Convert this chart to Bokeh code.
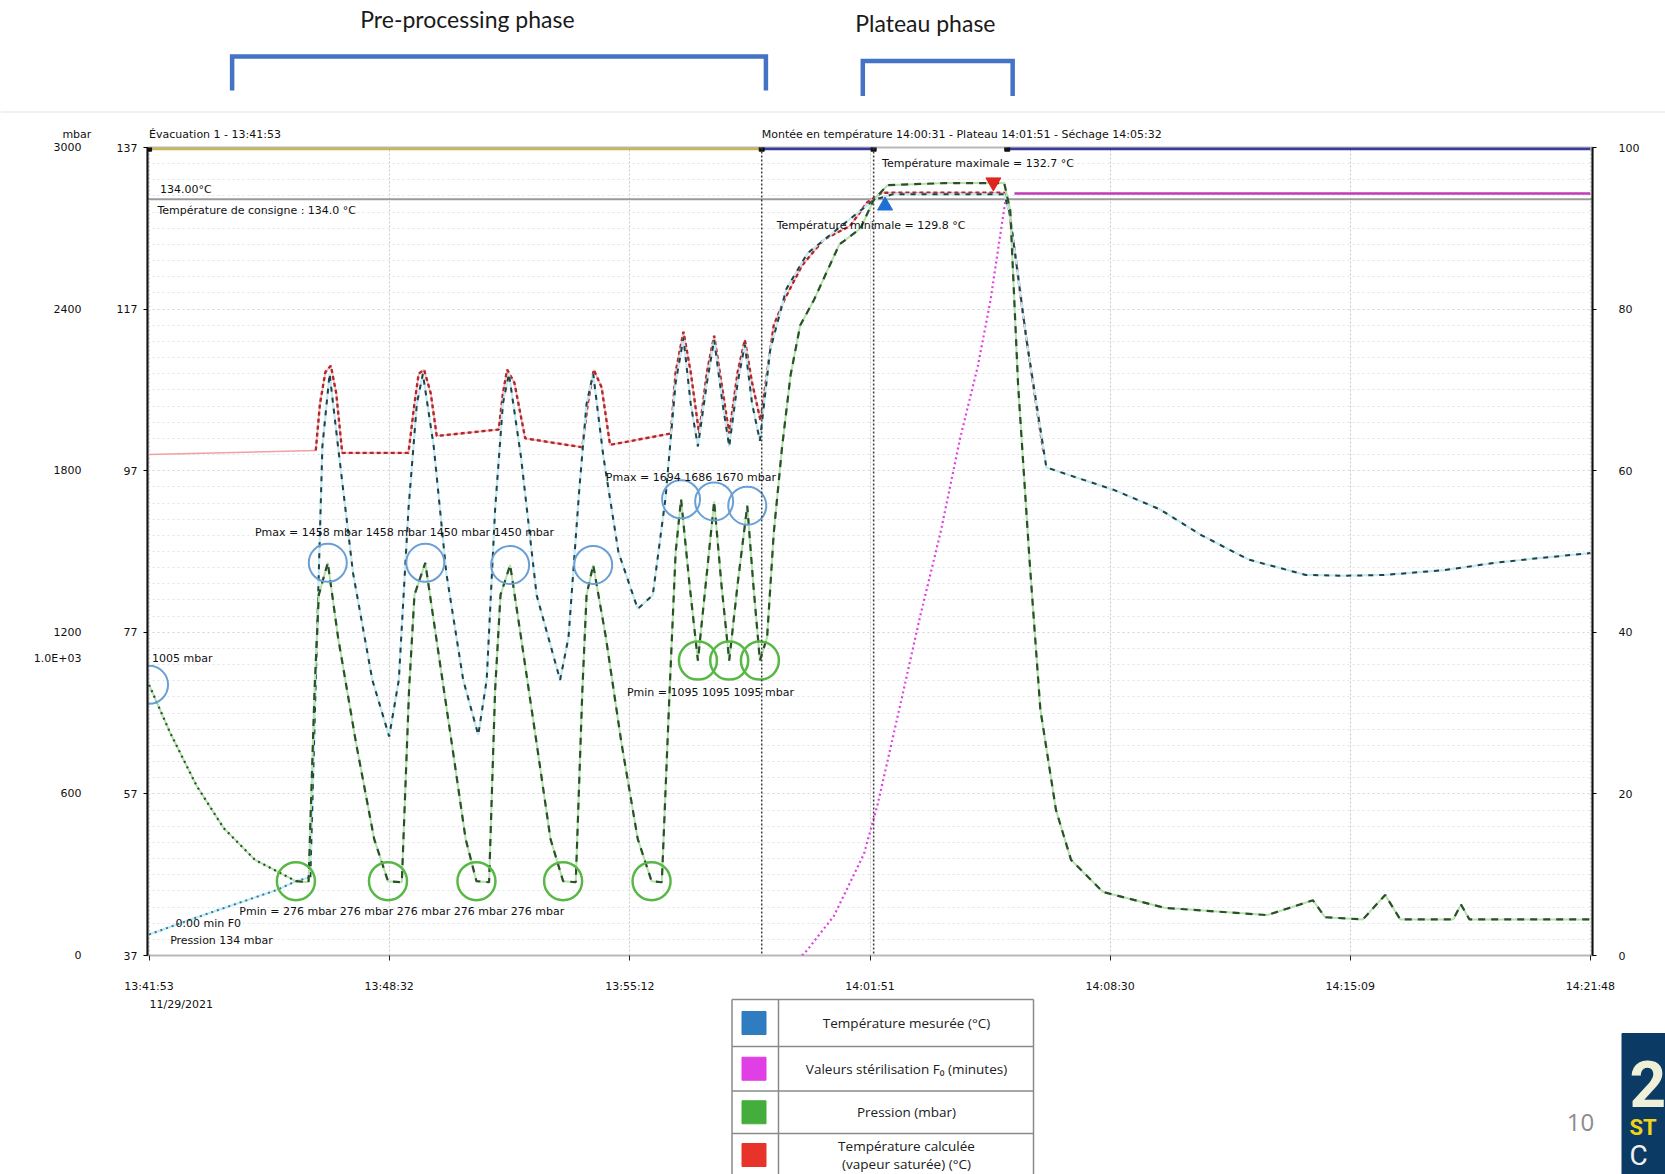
from datetime import datetime
import numpy as np
from bokeh.plotting import figure
from bokeh.models import Range1d, LinearAxis, FixedTicker, Label, Span
from bokeh.embed import file_html
from bokeh.resources import INLINE

# ---------------- data ----------------
time_tick_labels = ["13:41:53", "13:48:32", "13:55:12", "14:01:51", "14:08:30", "14:15:09", "14:21:48"]
date_label = "11/29/2021"

temp_ticks = [37, 57, 77, 97, 117, 137]
pressure_ticks = [0, 600, 1200, 1800, 2400, 3000]
pressure_note_tick = 1103
pressure_note_label = "1.0E+03"
f0_ticks = [0, 20, 40, 60, 80, 100]

# Pression (mbar) vs seconds since 13:41:53
pressure_t = [0, 35, 79, 124, 176, 244, 265, 275, 282, 297, 314, 344, 374, 397, 420, 432, 441, 459, 477, 503,
              526, 544, 565, 575, 584, 600, 618, 644, 667, 688, 709, 720, 727, 738, 759, 785, 812, 835, 852, 865,
              875, 884, 898, 912, 925, 939, 951, 964, 978, 994, 1004, 1015, 1027, 1038, 1052, 1066, 1082, 1105,
              1147, 1182, 1204, 1227, 1324, 1421, 1431, 1444, 1463, 1481, 1507, 1532, 1585, 1687, 1858, 1934,
              1954, 2017, 2054, 2079, 2167, 2180, 2194, 2395]
pressure_mbar = [1005, 827, 630, 473, 355, 276, 272, 985, 1339, 1458, 1182, 788, 433, 276, 272, 985, 1339, 1458,
                 1182, 788, 433, 276, 272, 985, 1339, 1450, 1182, 788, 433, 276, 272, 985, 1339, 1450, 1182, 788,
                 433, 276, 272, 985, 1497, 1694, 1379, 1095, 1379, 1686, 1379, 1095, 1379, 1670, 1379, 1095, 1182,
                 1568, 1891, 2155, 2340, 2435, 2640, 2699, 2805, 2860, 2868, 2868, 2766, 2120, 1469, 914, 540, 355,
                 236, 177, 150, 205, 142, 134, 225, 134, 134, 189, 134, 134]
pressure_max_idx = [0, 9, 17, 25, 33, 41, 45, 49]
pressure_min_idx = [5, 13, 21, 29, 37, 43, 47, 51]

# Température mesurée (°C)
temp_meas_t = [0, 71, 141, 212, 244, 268, 279, 288, 300, 314, 339, 371, 399, 415, 431, 445, 455, 473, 494, 522,
               547, 561, 575, 588, 598, 618, 644, 683, 697, 715, 727, 738, 755, 780, 812, 837, 858, 875, 888, 900,
               912, 927, 939, 953, 964, 978, 990, 1002, 1015, 1032, 1059, 1094, 1147, 1204, 1235, 1341, 1421,
               1430, 1458, 1491, 1604, 1680, 1749, 1827, 1922, 1985, 2054, 2153, 2236, 2312, 2395]
temp_meas_c = [39.6, 41.5, 43.3, 45.1, 46.2, 46.7, 76.4, 100.0, 109.0, 100.0, 84.3, 71.1, 64.1, 71.1, 92.2, 105.3,
               109.0, 100.0, 84.3, 71.1, 64.3, 71.1, 92.2, 105.3, 109.0, 98.7, 81.6, 71.1, 76.4, 94.8, 105.3,
               109.0, 98.7, 86.9, 79.9, 81.6, 93.5, 107.9, 113.4, 105.3, 100.0, 107.9, 113.2, 105.3, 100.0, 107.9,
               112.6, 105.3, 100.7, 111.9, 119.5, 123.9, 127.1, 130.5, 131.2, 131.2, 131.2, 128.9, 113.2, 97.4,
               94.6, 92.2, 89.0, 86.0, 84.1, 84.0, 84.1, 84.7, 85.6, 86.2, 86.8]

# Température calculée (vapeur saturée) (°C)
temp_calc_start_t = [0, 277]
temp_calc_start_c = [99.0, 99.5]
temp_calc_t = [277, 284, 293, 302, 311, 321, 431, 441, 448, 457, 468, 478, 581, 588, 595, 607, 625, 720, 729, 739,
               752, 766, 867, 875, 888, 900, 914, 927, 939, 951, 964, 978, 990, 1002, 1016, 1038, 1056, 1085, 1121,
               1165, 1193, 1218, 1341, 1421, 1430, 1458, 1486]
temp_calc_c = [99.5, 105.3, 109.2, 110.0, 106.6, 99.2, 99.2, 105.3, 109.0, 109.5, 106.6, 101.3, 102.1, 106.6, 109.5,
               107.9, 101.0, 99.9, 105.3, 109.5, 107.3, 100.2, 101.6, 109.2, 114.2, 109.2, 101.6, 109.2, 113.7,
               107.9, 101.6, 109.2, 113.2, 107.9, 103.2, 115.0, 118.2, 122.4, 125.6, 127.3, 130.2, 131.4, 131.4,
               131.4, 128.9, 113.2, 99.4]

# Valeurs stérilisation F0 (minutes)
f0_t = [1085, 1094, 1138, 1188, 1211, 1250, 1281, 1315, 1348, 1377, 1398, 1412, 1424, 1438, 2395]
f0_min = [0, 0.7, 4.9, 12.6, 18.8, 31.6, 41.9, 52.3, 64.1, 72.9, 81.0, 88.0, 93.9, 94.3, 94.3]
f0_rise_end = 12

setpoint_c = 130.6
temp_min_point = (1223, 129.8)
temp_max_point = (1403, 132.7)

phase_bounds = [0, 1018, 1204, 1426, 2395]
phase_colors = ["#c8b55c", "#3b3b9e", None, "#3b3b9e"]
preprocessing_span = (138, 1025)
plateau_span = (1186, 1435)

legend_items = [("Température mesurée (°C)", "#2f7cc0"),
                ("Valeurs stérilisation F₀ (minutes)", "#e03fe6"),
                ("Pression (mbar)", "#45ad3c"),
                ("Température calculée\n(vapeur saturée) (°C)", "#e8332a")]

# ---------------- layout constants (page has no margin) ----------------
W = 1665
TOP_H, MAIN_H, BOT_H = 140, 855, 179
BL, BR, BT, BB = 147, 73, 7, 39
x0, x1 = -2.6, 2398.5
SMALL = "DejaVu Sans"

# ---------------- main chart ----------------
main = figure(width=W, height=MAIN_H, x_range=Range1d(x0, x1), y_range=Range1d(temp_ticks[0], temp_ticks[-1]),
              output_backend="svg", toolbar_location=None,
              min_border_left=BL, min_border_right=BR, min_border_top=BT, min_border_bottom=BB,
              outline_line_color="#b9b9b9", outline_line_width=2)
main.extra_y_ranges = {"p": Range1d(pressure_ticks[0], pressure_ticks[-1]),
                       "f0": Range1d(f0_ticks[0], f0_ticks[-1])}

t_first = datetime.strptime(time_tick_labels[0], "%H:%M:%S")
tick_secs = [float((datetime.strptime(s, "%H:%M:%S") - t_first).total_seconds()) for s in time_tick_labels]

xa = main.xaxis[0]
xa.ticker = FixedTicker(ticks=tick_secs)
xa.major_label_overrides = {tv: lab for tv, lab in zip(tick_secs, time_tick_labels)}
xa.axis_line_color = None
xa.major_tick_out = 5
xa.major_tick_in = 0
xa.major_tick_line_color = "#222"
xa.minor_tick_line_color = None
xa.major_label_standoff = 19

ta = main.yaxis[0]
ta.ticker = FixedTicker(ticks=temp_ticks, minor_ticks=list(np.arange(temp_ticks[0], temp_ticks[-1] + 1, 2)))
ta.axis_line_color = "#111"
ta.axis_line_width = 2
ta.major_tick_out = 4
ta.major_tick_in = 0
ta.minor_tick_line_color = None
ta.major_label_standoff = 6

p_ticks_all = sorted(pressure_ticks + [pressure_note_tick])
pa = LinearAxis(y_range_name="p", ticker=FixedTicker(ticks=p_ticks_all))
pa.major_label_overrides = {pressure_note_tick: pressure_note_label}
pa.axis_line_color = None
pa.major_tick_line_color = None
pa.minor_tick_line_color = None
pa.major_label_standoff = 26
main.add_layout(pa, "left")

fa = LinearAxis(y_range_name="f0", ticker=FixedTicker(ticks=f0_ticks))
fa.axis_line_color = "#111"
fa.axis_line_width = 2
fa.major_tick_out = 4
fa.major_tick_in = 0
fa.minor_tick_line_color = None
fa.major_label_standoff = 22
main.add_layout(fa, "right")

for ax in (xa, ta, pa, fa):
    ax.major_label_text_font = SMALL
    ax.major_label_text_font_size = "11px"
    ax.major_label_text_color = "#111"

main.xgrid.grid_line_color = "#c9c9c9"
main.xgrid.grid_line_dash = "2 2"
main.ygrid.grid_line_color = "#d3d9e3"
main.ygrid.grid_line_dash = "2 3"
main.ygrid.minor_grid_line_color = "#dfe4ec"
main.ygrid.minor_grid_line_dash = "2 3"

# phase bars at the top of the frame and phase boundaries
y_bar = temp_ticks[-1] - 0.15
for a, b, c in zip(phase_bounds[:-1], phase_bounds[1:], phase_colors):
    if c:
        main.segment(x0=[a], y0=[y_bar], x1=[b], y1=[y_bar], line_color=c, line_width=3)
main.scatter(x=phase_bounds[:-1], y=[y_bar] * (len(phase_bounds) - 1), marker="square", size=5,
             fill_color="#111", line_color="#111")
for b in phase_bounds[1:3]:
    main.add_layout(Span(location=b, dimension="height", line_color="#3c3c3c", line_dash="2 2", line_width=1.5))

# setpoint line
main.line(x=[x0, x1], y=[setpoint_c, setpoint_c], line_color="#9b9b9b", line_width=2)

# F0
main.line(x=f0_t[:f0_rise_end + 1], y=f0_min[:f0_rise_end + 1], y_range_name="f0",
          line_color="#e23fe0", line_width=2.2, line_dash="2 3")
main.line(x=f0_t[f0_rise_end + 1:], y=f0_min[f0_rise_end + 1:], y_range_name="f0",
          line_color="#c03ab8", line_width=2.5)

# calculated temperature
main.line(x=temp_calc_start_t, y=temp_calc_start_c, line_color="#f2a0a0", line_width=1.6)
main.line(x=temp_calc_t, y=temp_calc_c, line_color="#f6b7b7", line_width=1.6)
main.line(x=temp_calc_t, y=temp_calc_c, line_color="#b3262b", line_width=2.4, line_dash="4 3")

# measured temperature (first heating segment dotted, rest dashed)
k = 5
main.line(x=temp_meas_t, y=temp_meas_c, line_color="#c4eaf7", line_width=2.2)
main.line(x=temp_meas_t[:k + 1], y=temp_meas_c[:k + 1], line_color="#2f7d95", line_width=2, line_dash="2 4")
main.line(x=temp_meas_t[k:], y=temp_meas_c[k:], line_color="#24433f", line_width=2, line_dash="5 6")

# pressure (initial evacuation dotted, rest dashed)
main.line(x=pressure_t, y=pressure_mbar, y_range_name="p", line_color="#b4e3aa", line_width=2)
main.line(x=pressure_t[:pressure_min_idx[0] + 1], y=pressure_mbar[:pressure_min_idx[0] + 1], y_range_name="p",
          line_color="#2a4f2a", line_width=2.2, line_dash="2 4")
main.line(x=pressure_t[pressure_min_idx[0]:], y=pressure_mbar[pressure_min_idx[0]:], y_range_name="p",
          line_color="#2a4f2a", line_width=2.2, line_dash="7 6")

# extremes circles
main.scatter(x=[pressure_t[i] for i in pressure_max_idx], y=[pressure_mbar[i] for i in pressure_max_idx],
             y_range_name="p", marker="circle", size=38, fill_color=None, line_color="#6a9fd6", line_width=2)
main.scatter(x=[pressure_t[i] for i in pressure_min_idx], y=[pressure_mbar[i] for i in pressure_min_idx],
             y_range_name="p", marker="circle", size=38, fill_color=None, line_color="#58b845", line_width=2.5)

# min / max temperature markers
main.scatter(x=[temp_min_point[0]], y=[temp_min_point[1]], marker="triangle", size=15,
             fill_color="#1f6fd6", line_color="#1f6fd6")
main.scatter(x=[temp_max_point[0]], y=[temp_max_point[1]], marker="inverted_triangle", size=15,
             fill_color="#e0251f", line_color="#e0251f")


def small_label(fig, x, y, text, yr="default", align="left"):
    fig.add_layout(Label(x=x, y=y, text=text, y_range_name=yr, text_font=SMALL, text_font_size="11px",
                         text_color="#111", text_baseline="middle", text_align=align))


small_label(main, 18, 131.8, "134.00°C")
small_label(main, 14, 129.2, "Température de consigne : 134.0 °C")
small_label(main, 1043, 127.3, "Température minimale = 129.8 °C")
small_label(main, 1218, 135.0, "Température maximale = 132.7 °C")
small_label(main, 5, 73.8, "1005 mbar")
small_label(main, 176, 89.3, "Pmax = 1458 mbar   1458 mbar   1450 mbar   1450 mbar")
small_label(main, 150, 42.5, "Pmin = 276 mbar    276 mbar    276 mbar    276 mbar    276 mbar")
small_label(main, 759, 96.1, "Pmax = 1694  1686  1670 mbar")
small_label(main, 794, 69.6, "Pmin = 1095  1095  1095 mbar")
small_label(main, 44, 40.9, "0.00 min F0")
small_label(main, 35, 38.8, "Pression 134 mbar")

# ---------------- top strip (phase brackets) ----------------
s_per_px = (x1 - x0) / (W - BL - BR)
top = figure(width=W, height=TOP_H, x_range=Range1d(x0 - BL * s_per_px, x1 + BR * s_per_px),
             y_range=Range1d(TOP_H, 0), output_backend="svg", toolbar_location=None,
             min_border=0, x_axis_location=None, y_axis_location=None, outline_line_color=None)
top.grid.visible = False
top.multi_line(xs=[[preprocessing_span[0], preprocessing_span[0], preprocessing_span[1], preprocessing_span[1]],
                   [plateau_span[0], plateau_span[0], plateau_span[1], plateau_span[1]]],
               ys=[[90, 56, 56, 90], [95.5, 60.5, 60.5, 95.5]],
               line_color="#4472c4", line_width=4.5, line_join="miter")
top.line(x=[x0 - BL * s_per_px, x1 + BR * s_per_px], y=[111.5, 111.5], line_color="#ededed", line_width=1.5)
top.add_layout(Label(x=529, y=18, text="Pre-processing phase", text_font="Lato", text_font_size="23px",
                     text_color="#1a1a1a", text_align="center", text_baseline="middle"))
top.add_layout(Label(x=1290, y=22, text="Plateau phase", text_font="Lato", text_font_size="23px",
                     text_color="#1a1a1a", text_align="center", text_baseline="middle"))
small_label(top, 0, 134, "Évacuation 1 - 13:41:53")
small_label(top, 1018, 134, "Montée en température 14:00:31 - Plateau 14:01:51 - Séchage 14:05:32")
small_label(top, -144, 134, "mbar")

# ---------------- bottom strip (legend table, page number) ----------------
bot = figure(width=W, height=BOT_H, x_range=Range1d(0, W), y_range=Range1d(BOT_H, 0),
             output_backend="svg", toolbar_location=None, min_border=0,
             x_axis_location=None, y_axis_location=None, outline_line_color=None)
bot.grid.visible = False
bot.add_layout(Label(x=149, y=9, text=date_label, text_font=SMALL, text_font_size="11px",
                     text_color="#111", text_baseline="middle"))

tx0, tx1, tdiv = 731.5, 1033, 778
row_y = [4, 51, 95.5, 138, 181]
bot.multi_line(xs=[[tx0, tx0], [tx1, tx1], [tdiv, tdiv]] + [[tx0, tx1] for _ in row_y[:-1]],
               ys=[[row_y[0], BOT_H], [row_y[0], BOT_H], [row_y[0], BOT_H]] + [[y, y] for y in row_y[:-1]],
               line_color="#8a8a8a", line_width=1.5)
for i, (name, col) in enumerate(legend_items):
    yc = (row_y[i] + row_y[i + 1]) / 2
    bot.rect(x=[753.5], y=[yc], width=24, height=23, fill_color=col, line_color=col)
    lines = name.split("\n")
    for j, ln in enumerate(lines):
        off = (j - (len(lines) - 1) / 2) * 18
        bot.add_layout(Label(x=906, y=yc + off, text=ln, text_font="Open Sans", text_font_size="13.5px",
                             text_font_style="normal", text_color="#202020",
                             text_align="center", text_baseline="middle"))

bot.add_layout(Label(x=1580, y=127, text="10", text_font="Open Sans", text_font_size="24px",
                     text_color="#8c8c8c", text_align="center", text_baseline="middle"))
bot.rect(x=[1643.5], y=[108.5], width=44, height=141, fill_color="#0b3a64", line_color="#0b3a64")
bot.add_layout(Label(x=1629, y=88, text="2", text_font="Roboto", text_font_size="64px", text_font_style="bold",
                     text_color="#eef0d8", text_baseline="middle"))
bot.add_layout(Label(x=1629, y=132, text="ST", text_font="Roboto", text_font_size="22px", text_font_style="bold",
                     text_color="#f2d31c", text_baseline="middle"))
bot.add_layout(Label(x=1629, y=160, text="C", text_font="Roboto", text_font_size="28px",
                     text_color="#f0f0f0", text_baseline="middle"))

open("out.html", "w").write(file_html([top, main, bot], INLINE))
